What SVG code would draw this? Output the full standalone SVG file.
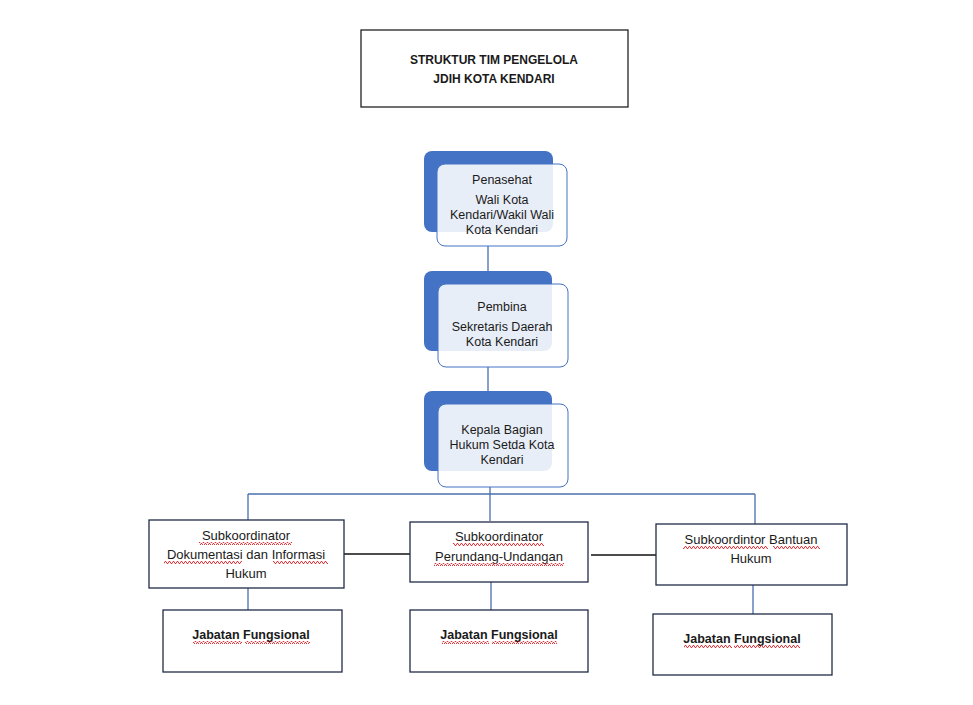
<svg xmlns="http://www.w3.org/2000/svg" width="973" height="705" viewBox="0 0 973 705">
<defs>
<style>
.t{font-family:"Liberation Sans",Arial,sans-serif;fill:#1a1a1a;text-anchor:middle}
.s12{font-size:12px}
.s125{font-size:12.5px}
.s13{font-size:13px}
.b{font-weight:bold}
.box{fill:#fff;stroke:#1f2b47;stroke-width:1.3}
.back{fill:#4472c4}
.front{fill:#fff;fill-opacity:0.88;stroke:#4472c4;stroke-width:1}
.cb{stroke:#4a6fae;stroke-width:1.3;fill:none}
.ck{stroke:#111;stroke-width:1.3;fill:none}
.sq{fill:url(#wave)}
</style>
<pattern id="wave" patternUnits="userSpaceOnUse" width="4" height="3">
<polyline points="0,2.5 1,0.5 2,0.5 3,2.5 4,2.5" fill="none" stroke="#e0242a" stroke-width="0.9"/>
</pattern>
</defs>
<rect width="973" height="705" fill="#fff"/>

<g id="connectors">
<line class="cb" x1="488" y1="246" x2="488" y2="284"/>
<line class="cb" x1="488" y1="367" x2="488" y2="404"/>
<line class="cb" x1="490" y1="487" x2="490" y2="521"/>
<line class="cb" x1="248" y1="494" x2="755" y2="494"/>
<line class="cb" x1="248" y1="494" x2="248" y2="520"/>
<line class="cb" x1="755" y1="494" x2="755" y2="524"/>
<line class="ck" x1="344" y1="554" x2="410" y2="554"/>
<line class="ck" x1="591" y1="555" x2="656" y2="555"/>
<line class="cb" x1="248" y1="588" x2="248" y2="610"/>
<line class="cb" x1="491" y1="582" x2="491" y2="610"/>
<line class="cb" x1="753" y1="585" x2="753" y2="614"/>
</g>

<g id="title">
<rect class="box" x="361" y="30" width="267" height="77" style="stroke:#222"/>
<text class="t s12 b" x="494" y="64">STRUKTUR TIM PENGELOLA</text>
<text class="t s12 b" x="494" y="83">JDIH KOTA KENDARI</text>
</g>

<g id="penasehat">
<rect class="back" x="424" y="151" width="129" height="81" rx="8"/>
<rect class="front" x="437" y="164" width="130" height="82" rx="8"/>
<text class="t s125" x="502" y="184">Penasehat</text>
<text class="t s125" x="502" y="204">Wali Kota</text>
<text class="t s125" x="502" y="219">Kendari/Wakil Wali</text>
<text class="t s125" x="502" y="234">Kota Kendari</text>
</g>

<g id="pembina">
<rect class="back" x="424" y="271" width="128" height="80" rx="8"/>
<rect class="front" x="438" y="284" width="130" height="83" rx="8"/>
<text class="t s125" x="502" y="311">Pembina</text>
<text class="t s125" x="502" y="331">Sekretaris Daerah</text>
<text class="t s125" x="502" y="346">Kota Kendari</text>
</g>

<g id="kabag">
<rect class="back" x="424" y="391" width="128" height="80" rx="8"/>
<rect class="front" x="438" y="404" width="130" height="83" rx="8"/>
<text class="t s125" x="502" y="434">Kepala Bagian</text>
<text class="t s125" x="502" y="449">Hukum Setda Kota</text>
<text class="t s125" x="502" y="464">Kendari</text>
</g>

<g id="sub-dokumentasi">
<rect class="box" x="149" y="520" width="195" height="68"/>
<text class="t s13" x="246" y="540">Subkoordinator</text>
<text class="t s13" x="246" y="559">Dokumentasi dan Informasi</text>
<text class="t s13" x="246" y="578">Hukum</text>
<rect class="sq" x="199" y="542" width="93" height="3"/>
<rect class="sq" x="164" y="561" width="78" height="3"/>
<rect class="sq" x="273" y="561" width="55" height="3"/>
</g>

<g id="sub-perundangan">
<rect class="box" x="410" y="522" width="178" height="60"/>
<text class="t s13" x="499" y="541">Subkoordinator</text>
<text class="t s13" x="499" y="561">Perundang-Undangan</text>
<rect class="sq" x="453" y="543" width="91" height="3"/>
<rect class="sq" x="434" y="563" width="130" height="3"/>
</g>

<g id="sub-bantuan">
<rect class="box" x="656" y="524" width="191" height="61"/>
<text class="t s13" x="751" y="544">Subkoordintor Bantuan</text>
<text class="t s13" x="751" y="563">Hukum</text>
<rect class="sq" x="683" y="546" width="85" height="3"/>
<rect class="sq" x="773" y="546" width="47" height="3"/>
</g>

<g id="jf-dokumentasi">
<rect class="box" x="163" y="610" width="179" height="62"/>
<text class="t s125 b" x="251" y="639">Jabatan Fungsional</text>
<rect class="sq" x="193" y="641" width="49" height="3"/>
<rect class="sq" x="245" y="641" width="65" height="3"/>
</g>

<g id="jf-perundangan">
<rect class="box" x="410" y="610" width="178" height="62"/>
<text class="t s125 b" x="499" y="639">Jabatan Fungsional</text>
<rect class="sq" x="442" y="641" width="47" height="3"/>
<rect class="sq" x="492" y="641" width="65" height="3"/>
</g>

<g id="jf-bantuan">
<rect class="box" x="653" y="614" width="179" height="61"/>
<text class="t s125 b" x="742" y="643">Jabatan Fungsional</text>
<rect class="sq" x="684" y="645" width="48" height="3"/>
<rect class="sq" x="734" y="645" width="66" height="3"/>
</g>
</svg>
